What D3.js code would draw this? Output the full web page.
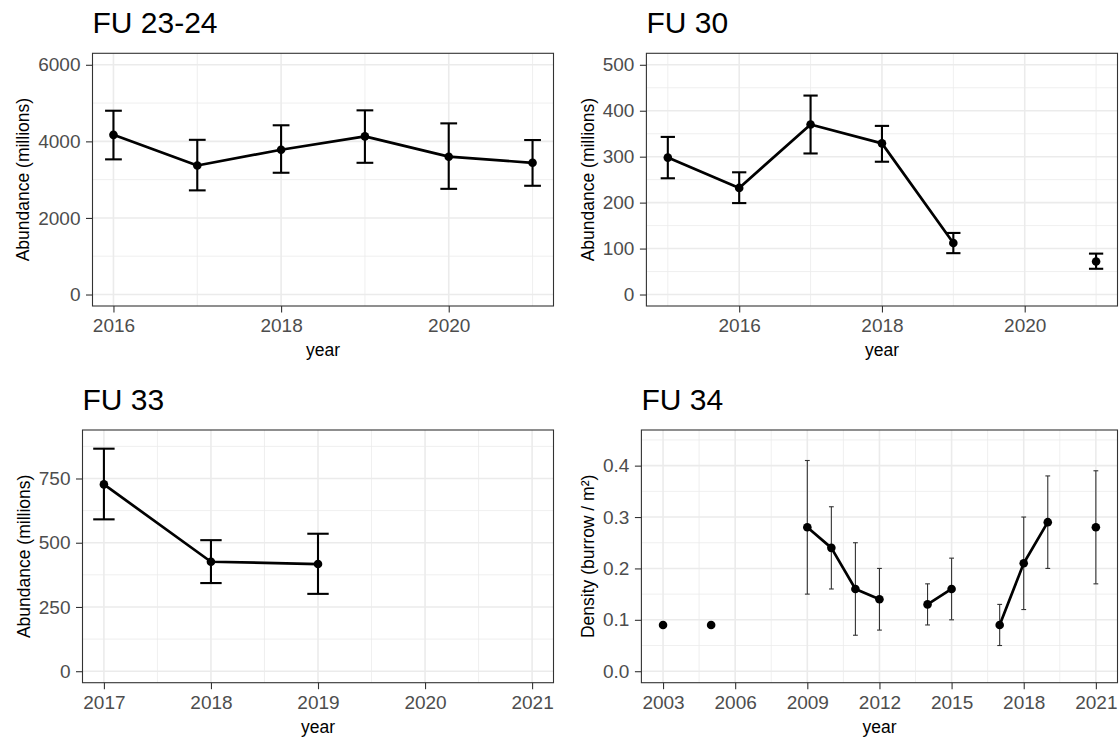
<!DOCTYPE html>
<html>
<head>
<meta charset="utf-8">
<script src="https://cdn.jsdelivr.net/npm/d3@7"></script>
<style>
  body { margin: 0; background: #fff; }
  text { font-family: "Liberation Sans", Arial, sans-serif; }
</style>
</head>
<body>
<svg id="chart" width="1120" height="738"></svg>
<script>
// ---- FU 23-24 : abundance (millions) ----
const fu2324Years = [2016, 2017, 2018, 2019, 2020, 2021];
const fu2324Est   = [4170, 3370, 3780, 4130, 3600, 3440];
const fu2324Low   = [3530, 2720, 3180, 3440, 2760, 2840];
const fu2324High  = [4800, 4040, 4420, 4810, 4470, 4035];
const fu2324XTicks = [2016, 2018, 2020];
const fu2324YTicks = [0, 2000, 4000, 6000];
const fu2324YLimits = [0, 6000];

// ---- FU 30 : abundance (millions), no survey in 2020 ----
const fu30Years = [2015, 2016, 2017, 2018, 2019, 2020, 2021];
const fu30Est   = [298, 232, 370, 329, 112, null, 72];
const fu30Low   = [253, 199, 307, 289, 90, null, 56];
const fu30High  = [343, 266, 433, 367, 134, null, 89];
const fu30XTicks = [2016, 2018, 2020];
const fu30YTicks = [0, 100, 200, 300, 400, 500];
const fu30YLimits = [0, 500];

// ---- FU 33 : abundance (millions), no surveys 2020-2021 ----
const fu33Years = [2017, 2018, 2019, 2020, 2021];
const fu33Est   = [727, 426, 417, null, null];
const fu33Low   = [591, 343, 301, null, null];
const fu33High  = [866, 510, 535, null, null];
const fu33XTicks = [2017, 2018, 2019, 2020, 2021];
const fu33YTicks = [0, 250, 500, 750];
const fu33YLimits = [0, 894];

// ---- FU 34 : burrow density (burrow / m²) ----
const fu34Years = [2003, 2004, 2005, 2006, 2007, 2008, 2009, 2010, 2011, 2012,
                   2013, 2014, 2015, 2016, 2017, 2018, 2019, 2020, 2021];
const fu34Est   = [0.09, null, 0.09, null, null, null, 0.28, 0.24, 0.16, 0.14,
                   null, 0.13, 0.16, null, 0.09, 0.21, 0.29, null, 0.28];
const fu34Low   = [null, null, null, null, null, null, 0.15, 0.16, 0.07, 0.08,
                   null, 0.09, 0.10, null, 0.05, 0.12, 0.20, null, 0.17];
const fu34High  = [null, null, null, null, null, null, 0.41, 0.32, 0.25, 0.20,
                   null, 0.17, 0.22, null, 0.13, 0.30, 0.38, null, 0.39];
const fu34XTicks = [2003, 2006, 2009, 2012, 2015, 2018, 2021];
const fu34YTicks = [0, 0.1, 0.2, 0.3, 0.4];
const fu34YLimits = [0, 0.447];

const panels = [
  { title: "FU 23-24", yTitle: "Abundance (millions)",
    years: fu2324Years, est: fu2324Est, low: fu2324Low, high: fu2324High,
    xTicks: fu2324XTicks, yTicks: fu2324YTicks, yLimits: fu2324YLimits,
    fmt: d3.format("d"), box: { l: 92.5, r: 553.5, t: 53.3, b: 306 }, thin: false },
  { title: "FU 30", yTitle: "Abundance (millions)",
    years: fu30Years, est: fu30Est, low: fu30Low, high: fu30High,
    xTicks: fu30XTicks, yTicks: fu30YTicks, yLimits: fu30YLimits,
    fmt: d3.format("d"), box: { l: 646.4, r: 1117.5, t: 53.3, b: 306 }, thin: false },
  { title: "FU 33", yTitle: "Abundance (millions)",
    years: fu33Years, est: fu33Est, low: fu33Low, high: fu33High,
    xTicks: fu33XTicks, yTicks: fu33YTicks, yLimits: fu33YLimits,
    fmt: d3.format("d"), box: { l: 82.5, r: 553.5, t: 430, b: 682.7 }, thin: false },
  { title: "FU 34", yTitle: "Density (burrow / m²)",
    years: fu34Years, est: fu34Est, low: fu34Low, high: fu34High,
    xTicks: fu34XTicks, yTicks: fu34YTicks, yLimits: fu34YLimits,
    fmt: d3.format(".1f"), box: { l: 641.4, r: 1117.5, t: 430, b: 682.7 }, thin: true }
];

const TICK_FONT = 19, TITLE_FONT = 17.5, HEAD_FONT = 30;
const GRID = "#EBEBEB", FRAME = "#333333";

// pad a [min, max] range by 5% on each side
function expand(lim) {
  const pad = (lim[1] - lim[0]) * 0.05;
  return [lim[0] - pad, lim[1] + pad];
}
// minor gridlines sit halfway between the major breaks
function minorBreaks(major, domain) {
  const step = major[1] - major[0];
  const out = [];
  for (let v = major[0] - step / 2; v <= major[major.length - 1] + step / 2 + 1e-9; v += step) {
    if (v >= domain[0] && v <= domain[1]) out.push(v);
  }
  return out;
}

const svg = d3.select("#chart");
svg.append("rect").attr("width", 1120).attr("height", 738).attr("fill", "#fff");

panels.forEach(p => {
  const { l, r, t, b } = p.box;
  const xDom = expand(d3.extent(p.years));
  const yDom = expand(p.yLimits);
  const x = d3.scaleLinear().domain(xDom).range([l, r]);
  const y = d3.scaleLinear().domain(yDom).range([b, t]);
  const g = svg.append("g");

  // grid
  const grid = g.append("g");
  minorBreaks(p.xTicks, xDom).forEach(v => grid.append("line")
    .attr("x1", x(v)).attr("x2", x(v)).attr("y1", t).attr("y2", b)
    .attr("stroke", GRID).attr("stroke-width", 0.8));
  minorBreaks(p.yTicks, yDom).forEach(v => grid.append("line")
    .attr("x1", l).attr("x2", r).attr("y1", y(v)).attr("y2", y(v))
    .attr("stroke", GRID).attr("stroke-width", 0.8));
  p.xTicks.forEach(v => grid.append("line")
    .attr("x1", x(v)).attr("x2", x(v)).attr("y1", t).attr("y2", b)
    .attr("stroke", GRID).attr("stroke-width", 1.6));
  p.yTicks.forEach(v => grid.append("line")
    .attr("x1", l).attr("x2", r).attr("y1", y(v)).attr("y2", y(v))
    .attr("stroke", GRID).attr("stroke-width", 1.6));

  const rows = p.years.map((yr, i) => ({ year: yr, est: p.est[i], low: p.low[i], high: p.high[i] }));

  // error bars
  const barColor = p.thin ? "#333333" : "#000";
  const barWidth = p.thin ? 1.1 : 2.1;
  const bars = g.append("g").attr("stroke", barColor).attr("stroke-width", barWidth).attr("fill", "none");
  rows.filter(d => d.low != null && d.high != null).forEach(d => {
    bars.append("line").attr("x1", x(d.year)).attr("x2", x(d.year))
      .attr("y1", y(d.low)).attr("y2", y(d.high));
    [d.low, d.high].forEach(v => bars.append("line")
      .attr("x1", x(d.year - 0.1)).attr("x2", x(d.year + 0.1))
      .attr("y1", y(v)).attr("y2", y(v)));
  });

  // connecting line, broken at missing years
  const line = d3.line().defined(d => d.est != null).x(d => x(d.year)).y(d => y(d.est));
  g.append("path").datum(rows).attr("d", line)
    .attr("fill", "none").attr("stroke", "#000").attr("stroke-width", 2.7)
    .attr("stroke-linejoin", "round");

  // points
  g.append("g").selectAll("circle").data(rows.filter(d => d.est != null)).join("circle")
    .attr("cx", d => x(d.year)).attr("cy", d => y(d.est)).attr("r", 4.3).attr("fill", "#000");

  // panel border
  g.append("rect").attr("x", l).attr("y", t).attr("width", r - l).attr("height", b - t)
    .attr("fill", "none").attr("stroke", FRAME).attr("stroke-width", 1.1);

  // axes
  const xAxis = g.append("g").attr("transform", `translate(0,${b})`)
    .call(d3.axisBottom(x).tickValues(p.xTicks).tickSize(6.5).tickPadding(6).tickFormat(d3.format("d")));
  const yAxis = g.append("g").attr("transform", `translate(${l},0)`)
    .call(d3.axisLeft(y).tickValues(p.yTicks).tickSize(6.5).tickPadding(5.5).tickFormat(p.fmt));
  [xAxis, yAxis].forEach(a => {
    a.select(".domain").remove();
    a.selectAll(".tick line").attr("stroke", FRAME).attr("stroke-width", 1.1);
    a.selectAll(".tick text").attr("fill", "#4D4D4D")
      .style("font-size", TICK_FONT + "px")
      .style("font-family", "'Liberation Sans', Arial, sans-serif");
  });

  // panel heading
  g.append("text").attr("x", l).attr("y", t - 20).attr("fill", "#000")
    .style("font-size", HEAD_FONT + "px").text(p.title);

  // axis titles
  g.append("text").attr("x", (l + r) / 2).attr("y", b + 50).attr("text-anchor", "middle")
    .attr("fill", "#000").style("font-size", TITLE_FONT + "px").text("year");
  const bb = yAxis.node().getBBox();
  const tx = l + bb.x - 9;
  g.append("text").attr("transform", `translate(${tx},${(t + b) / 2}) rotate(-90)`)
    .attr("text-anchor", "middle").attr("fill", "#000")
    .style("font-size", TITLE_FONT + "px").text(p.yTitle);
});
</script>
</body>
</html>
